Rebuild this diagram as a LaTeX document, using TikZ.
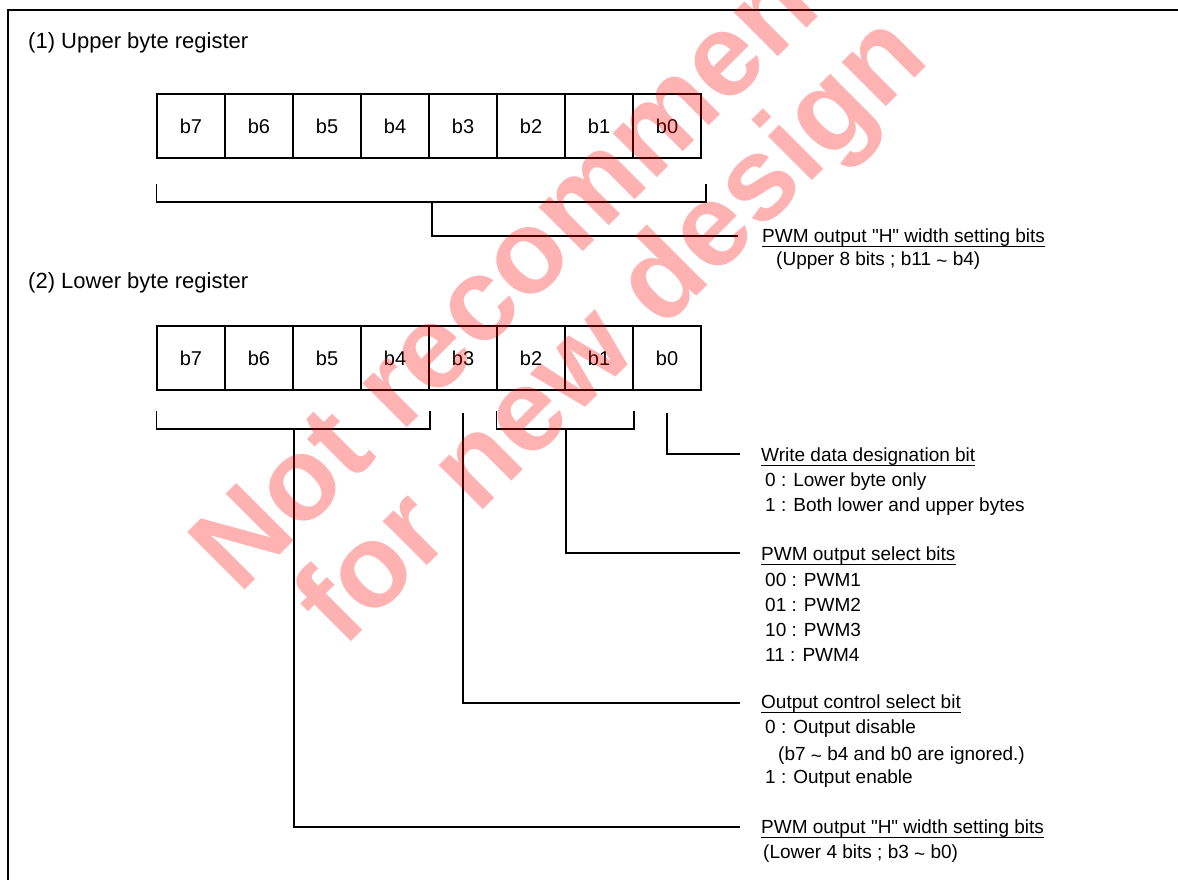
\documentclass[tikz,border=0pt]{standalone}
\usepackage{fontspec}
\setmainfont{Liberation Sans}[Ligatures=TeXOff]
\usetikzlibrary{positioning}
\newcommand{\tld}{\raisebox{-2pt}{\textasciitilde}}
\tikzset{
bitcell/.style={
draw,
line width=1.5pt,
minimum width=68pt,
minimum height=64pt,
inner sep=0pt,
font=\fontsize{20}{24}\selectfont
},
regtitle/.style={
anchor=base west,
inner sep=0pt,
font=\fontsize{22}{26}\selectfont
},
fieldhead/.style={
anchor=base west,
inner sep=0pt,
text depth=4pt,
font=\fontsize{19}{23}\selectfont
},
fielditem/.style={
anchor=base west,
inner sep=0pt,
font=\fontsize{19}{23}\selectfont
},
wire/.style={
line width=1.5pt
},
uline/.style={
line width=1.4pt
},
wmark/.style={
anchor=base west,
inner sep=0pt,
rotate=45,
text=red,
text opacity=0.3,
font=\fontsize{118}{118}\selectfont\bfseries
}
}

\begin{document}
\begin{tikzpicture}[x=1pt,y=-1pt]
\useasboundingbox (0,0) rectangle (1178,879);
\clip (0,0) rectangle (1178,879);
\draw[wire] (8,900) |- (1200,10);

% (1) upper byte register
\node[regtitle](t1) at (28,48){(1) Upper byte register};
\foreach \b [count=\k from 0] in {7,...,0}
\node[bitcell](u\b) at (191+68*\k,126){b\b};

\coordinate (lU) at (738,236);
\draw[wire]([yshift=-25pt]u7.south west) |- ([xshift=4pt,yshift=-43pt]u0.south east) -- ([xshift=4pt,yshift=-25pt]u0.south east);
\draw[wire]([xshift=2pt,yshift=-43pt]u4.south east) |- (lU);

\node[fieldhead](hU) at (762,242){PWM output "H" width setting bits};
\node[fielditem](sU) at (776,265){(Upper 8 bits ; b11 \tld{} b4)};

% (2) lower byte register
\node[regtitle](t2) at (28,288){(2) Lower byte register};
\foreach \b [count=\k from 0] in {7,...,0}
\node[bitcell](l\b) at (191+68*\k,358){b\b};

\coordinate (lW) at (740,454);
\coordinate (lS) at (740,553);
\coordinate (lC) at (740,703);
\coordinate (lL) at (740,827);

\draw[wire]([yshift=-20pt]l7.south west) |- ([yshift=-38pt]l4.south east) -- ([yshift=-20pt]l4.south east);
\draw[wire]([yshift=-20pt]l2.south west) |- ([yshift=-38pt]l1.south east) -- ([yshift=-20pt]l1.south east);

\draw[wire]([yshift=-22pt]l0.south) |- (lW);
\draw[wire]([yshift=-38pt]l2.south east) |- (lS);
\draw[wire]([yshift=-22pt]l3.south) |- (lC);
\draw[wire]([yshift=-38pt]l6.south east) |- (lL);

\node[fieldhead](hW) at (761,461){Write data designation bit};
\node[fielditem](w0) at (765,486){0 : Lower byte only};
\node[fielditem](w1) at (765,511){1 : Both lower and upper bytes};

\node[fieldhead](hS) at (761,560){PWM output select bits};
\foreach \v/\p [count=\k from 0] in {00/1,01/2,10/3,11/4}
\node[fielditem](s\p) at (765,586+25*\k){\v{} : PWM\p};

\node[fieldhead](hC) at (761,708){Output control select bit};
\node[fielditem](c0) at (765,733){0 : Output disable};
\node[fielditem](cn) at (778,760){(b7 \tld{} b4 and b0 are ignored.)};
\node[fielditem](c1) at (765,783){1 : Output enable};

\node[fieldhead](hL) at (761,833){PWM output "H" width setting bits};
\node[fielditem](sL) at (763,858){(Lower 4 bits ; b3 \tld{} b0)};

\foreach \n in {hU,hW,hS,hC,hL}
\draw[uline](\n.south west) -- (\n.south east);

% watermark
\node[wmark](wm1) at (239,596){Not recommended};
\node[wmark](wm2) at (343,650){for new design};
\end{tikzpicture}
\end{document}
